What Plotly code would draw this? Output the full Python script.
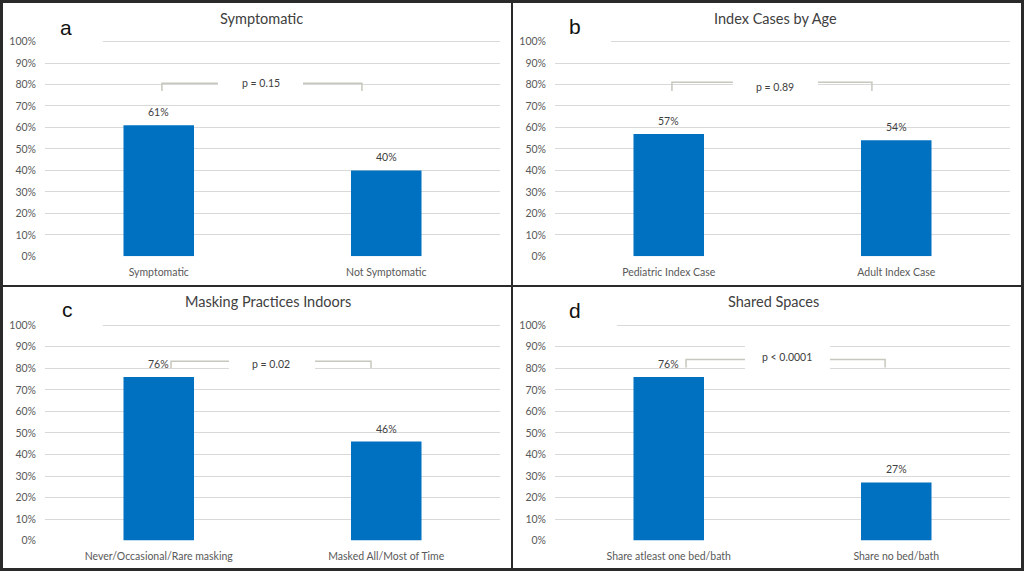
import plotly.graph_objects as go

# ---------------- data ----------------
titles = ["Symptomatic", "Index Cases by Age", "Masking Practices Indoors", "Shared Spaces"]
letters = ["a", "b", "c", "d"]
categories = [
    ["Symptomatic", "Not Symptomatic"],
    ["Pediatric Index Case", "Adult Index Case"],
    ["Never/Occasional/Rare masking", "Masked All/Most of Time"],
    ["Share atleast one bed/bath", "Share no bed/bath"],
]
values = [
    [0.61, 0.40],
    [0.57, 0.54],
    [0.76, 0.46],
    [0.76, 0.27],
]
p_labels = ["p = 0.15", "p = 0.89", "p = 0.02", "p < 0.0001"]
tick_vals = [0, 0.1, 0.2, 0.3, 0.4, 0.5, 0.6, 0.7, 0.8, 0.9, 1.0]
tick_text = ["0%", "10%", "20%", "30%", "40%", "50%", "60%", "70%", "80%", "90%", "100%"]

# ---------------- layout helpers ----------------
W, H = 1024, 577
FONT = "Lato, 'Open Sans', sans-serif"
BAR = "#0070C0"
GRID = "#d9d9d9"
TXT = "#404040"
TICK = "#595959"
BRK = "#c6c8bd"
YMAX = 1.03

def px(x):
    return x / W

def py(y):
    return 1 - y / H

# panel geometry (pixel positions of plot left/right and 0%/100% lines)
xdom = [(45, 500), (555, 1010), (45, 500), (555, 1010)]
ydom = [(259, 42), (259, 42), (546.3, 328.7), (546.3, 328.7)]
title_pos = [(261, 19), (775, 19), (268, 305), (773, 305)]
letter_pos = [(66, 28), (575, 27), (67, 313), (575, 314)]
top_cover = [0.127, 0.123, 0.127, 0.136]
# bracket geometry in axis units: left x, right x, top y, bottom y, left-end, right-start, text x, text y, cover y0, cover y1
brackets = [
    (0.014, 0.893, 0.806, 0.770, 0.26, 0.634, 0.449, 0.806, 0.77, 0.84),
    (0.014, 0.893, 0.811, 0.770, 0.282, 0.656, 0.467, 0.788, 0.77, 0.84),
    (0.054, 0.933, 0.833, 0.800, 0.309, 0.687, 0.493, 0.820, 0.78, 0.86),
    (0.076, 0.951, 0.841, 0.804, 0.335, 0.709, 0.520, 0.852, 0.78, 0.92),
]

fig = go.Figure()
shapes = []
annotations = []
layout = dict(
    width=W, height=H,
    margin=dict(l=0, r=0, t=0, b=0),
    paper_bgcolor="white", plot_bgcolor="white",
    showlegend=False,
    font=dict(family=FONT, color=TXT),
)

for i in range(4):
    n = "" if i == 0 else str(i + 1)
    xa, ya = "x" + n, "y" + n
    y0p, y100p = ydom[i]
    ytop = y0p - (y0p - y100p) * YMAX
    fig.add_trace(go.Bar(
        x=[0, 1], y=values[i], width=0.31,
        marker=dict(color=BAR, line=dict(width=0)),
        xaxis=xa, yaxis=ya, hoverinfo="skip",
    ))
    layout["xaxis" + n] = dict(
        domain=[px(xdom[i][0]), px(xdom[i][1])], anchor=ya,
        range=[-0.5, 1.5], tickvals=[0, 1], ticktext=categories[i],
        showgrid=False, zeroline=False, showline=False, ticks="",
        tickfont=dict(family=FONT, size=10.5, color=TICK),
        ticklabelstandoff=8,
        fixedrange=True,
    )
    layout["yaxis" + n] = dict(
        domain=[py(y0p), py(ytop)], anchor=xa,
        range=[0, YMAX], tickvals=tick_vals, ticktext=tick_text,
        showgrid=True, gridcolor=GRID, gridwidth=1,
        zeroline=False, showline=False, ticks="",
        tickfont=dict(family=FONT, size=10.5, color=TICK),
        ticklabelstandoff=8,
        fixedrange=True,
    )
    for j in range(2):
        annotations.append(dict(
            x=j, y=values[i][j], xref=xa, yref=ya,
            text=f"{round(values[i][j] * 100)}%", showarrow=False,
            yanchor="bottom", yshift=5,
            font=dict(family=FONT, size=10.5, color=TXT),
        ))
    annotations.append(dict(
        x=px(title_pos[i][0]), y=py(title_pos[i][1]), xref="paper", yref="paper",
        text=titles[i], showarrow=False, xanchor="center", yanchor="middle",
        font=dict(family=FONT, size=14.5, color=TXT),
    ))
    annotations.append(dict(
        x=px(letter_pos[i][0]), y=py(letter_pos[i][1]), xref="paper", yref="paper",
        text=letters[i], showarrow=False, xanchor="center", yanchor="middle",
        font=dict(family="Liberation Sans, Arial, sans-serif", size=21, color="#111111"),
    ))
    # cover of the top gridline's start (behind panel letter)
    shapes.append(dict(
        type="rect", xref=xa, yref=ya, layer="between",
        x0=-0.52, x1=-0.5 + 2 * top_cover[i], y0=0.97, y1=1.03,
        fillcolor="white", line=dict(width=0),
    ))
    bx0, bx1, by0, by1, le, rs, tx, ty, cy0, cy1 = brackets[i]
    shapes.append(dict(
        type="rect", xref=xa, yref=ya, layer="between",
        x0=le, x1=rs, y0=cy0, y1=cy1, fillcolor="white", line=dict(width=0),
    ))
    bline = dict(color=BRK, width=1.5)
    shapes.append(dict(type="path", xref=xa, yref=ya, layer="above",
                       path=f"M {bx0},{by1} L {bx0},{by0} L {le},{by0}", line=bline))
    shapes.append(dict(type="path", xref=xa, yref=ya, layer="above",
                       path=f"M {rs},{by0} L {bx1},{by0} L {bx1},{by1}", line=bline))
    annotations.append(dict(
        x=tx, y=ty, xref=xa, yref=ya, text=p_labels[i], showarrow=False,
        xanchor="center", yanchor="middle",
        font=dict(family=FONT, size=10.5, color=TXT),
    ))

# frame and dividers
FR = "#2a2a2a"
shapes.append(dict(type="rect", xref="paper", yref="paper",
                   x0=px(1.5), x1=px(W - 1.5), y0=py(H - 1.5), y1=py(1.5),
                   line=dict(color=FR, width=3), layer="above"))
shapes.append(dict(type="line", xref="paper", yref="paper",
                   x0=px(512), x1=px(512), y0=0, y1=1, line=dict(color=FR, width=2), layer="above"))
shapes.append(dict(type="line", xref="paper", yref="paper",
                   x0=0, x1=1, y0=py(289), y1=py(289), line=dict(color=FR, width=2), layer="above"))

layout["shapes"] = shapes
layout["annotations"] = annotations
fig.update_layout(**layout)
fig.write_html("out.html", config={"displayModeBar": False},
               post_script="document.body.style.margin='0';")
